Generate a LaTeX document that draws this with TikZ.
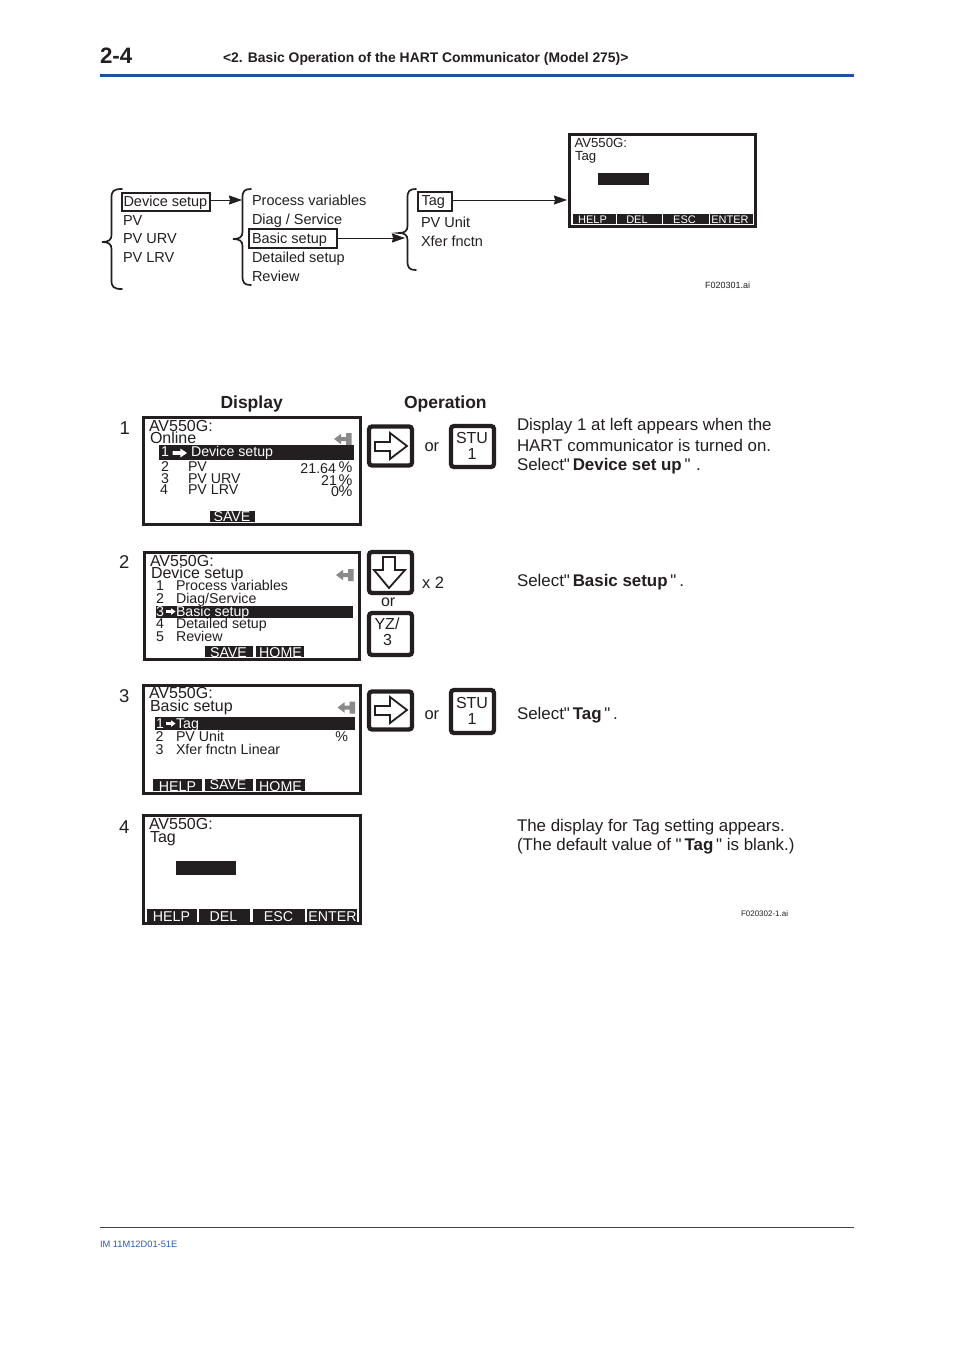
\documentclass[tikz,border=0pt]{standalone}
\usepackage{fontspec}
\usetikzlibrary{arrows.meta}
\newfontfamily\ar{Liberation Sans}
\definecolor{ink}{HTML}{231F20}
\definecolor{hblue}{HTML}{1F50A8}
\definecolor{fblue}{HTML}{2A5CAA}
\definecolor{icongray}{HTML}{8A8A8A}
\tikzset{
  lbl/.style={anchor=base west,inner sep=0pt,outer sep=0pt,text=ink,font=\ar\fontsize{#1}{#1}\selectfont},
  lblr/.style={anchor=base east,inner sep=0pt,outer sep=0pt,text=ink,font=\ar\fontsize{#1}{#1}\selectfont},
  lblc/.style={anchor=base,inner sep=0pt,outer sep=0pt,text=ink,font=\ar\fontsize{#1}{#1}\selectfont},
  inv/.style={text=white},
  selbox/.style={draw=ink,line width=1.2pt,inner sep=0pt,outer sep=0pt,minimum width=#1},
  lcd/.style={draw=ink,line width=3pt,inner sep=0pt,outer sep=0pt,fill=white},
  blk/.style={fill=ink,draw=none,inner sep=0pt,outer sep=0pt},
  keybtn/.style={draw=ink,line width=4.3pt,rounded corners=3pt,inner sep=0pt,outer sep=0pt,fill=white,minimum width=43pt},
  arr/.style={draw=ink,line width=.8pt,-{Stealth[length=13pt,width=9pt,inset=1pt]}},
  bracepath/.style={draw=ink,line width=1.7pt,line cap=round,fill=none},
  keyarrow/.style={draw=ink,line width=1.8pt,line join=miter,fill=white},
}
% end x, stem x, tip x, top y, tip y, bottom y
\newcommand{\curly}[6]{\draw[bracepath] (#1,#4) .. controls (#2+2,#4) and (#2,#4+2) .. (#2,#4+9) -- (#2,#5-7) .. controls (#2,#5-2) and (#2-3,#5) .. (#3,#5) .. controls (#2-3,#5) and (#2,#5+2) .. (#2,#5+7) -- (#2,#6-9) .. controls (#2,#6-2) and (#2+2,#6) .. (#1,#6);}
% left of icon x, top y
\newcommand{\backicon}[2]{\begin{scope}[shift={(#1,#2)}]\fill[icongray] (0,6) -- (7,.8) -- (7,4) -- (12,4) -- (12,0) -- (17.5,0) -- (17.5,12) -- (12,12) -- (12,8) -- (7,8) -- (7,11.2) -- cycle;\end{scope}}
% left x, centre y, length, stem half width, head half width
\newcommand{\wharrow}[5]{\begin{scope}[shift={(#1,#2)}]\fill[white] (0,-#4) -- (#3*0.55,-#4) -- (#3*0.55,-#5) -- (#3,0) -- (#3*0.55,#5) -- (#3*0.55,#4) -- (0,#4) -- cycle;\end{scope}}
\begin{document}
\begin{tikzpicture}[x=1pt,y=-1pt]
\useasboundingbox (0,0) rectangle (954,1350);
\fill[white] (0,0) rectangle (954,1350);
% header and footer
\node[lbl=22,font=\ar\bfseries\fontsize{22.3}{22.3}\selectfont] (hnum) at (100,63) {2-4};
\node[lbl=13,font=\ar\bfseries\fontsize{13.88}{13.88}\selectfont] (htitle) at (223,62) {<2. Basic Operation of the HART Communicator (Model 275)>};
\fill[hblue] (100,74) rectangle (854,77);
\draw[ink!85,line width=.6pt] (100,1227.5) -- (854,1227.5);
\node[lbl=9.3,text=fblue] (foot) at (100,1247) {IM 11M12D01-51E};

% ===== top menu tree
\curly{122}{111.5}{102}{189}{242}{289}
\curly{251}{242.5}{233}{189}{239}{285}
\curly{416}{407.5}{399}{189}{233}{270}
\node[lbl=14.5] (t1a) at (123.5,206) {Device setup};
\node[lbl=14.5] (t1b) at (123,225) {PV};
\node[lbl=14.5] (t1c) at (123,243) {PV URV};
\node[lbl=14.5] (t1d) at (123,262) {PV LRV};
\node[lbl=14.5] (t2a) at (252,205) {Process variables};
\node[lbl=14.5] (t2b) at (252,224) {Diag / Service};
\node[lbl=14.5] (t2c) at (252,243) {Basic setup};
\node[lbl=14.5] (t2d) at (252,262) {Detailed setup};
\node[lbl=14.5] (t2e) at (252,281) {Review};
\node[lbl=14.5] (t3a) at (421.5,205) {Tag};
\node[lbl=14.5] (t3b) at (421,227) {PV Unit};
\node[lbl=14.5] (t3c) at (421,246) {Xfer fnctn};
\node[selbox=88pt,minimum height=18pt] (devbox) at (166,202) {};
\node[selbox=88pt,minimum height=19pt] (basbox) at (293,238.5) {};
\node[selbox=34pt,minimum height=19pt] (tagbox) at (435,201.5) {};
\node[lcd,minimum width=186pt,minimum height=92pt] (scr0) at (662.5,180) {};
\coordinate (ae1) at (242,200);
\coordinate (ae2) at (405,238);
\coordinate (ae3) at (567,200);
\draw[arr] (devbox.east |- ae1) -- (ae1);
\draw[arr] (basbox.east |- ae2) -- (ae2);
\draw[arr] (tagbox.east |- ae3) -- (ae3);
\node[lbl=13.2] (s0a) at (574.5,147.5) {AV550G:};
\node[lbl=13.2] (s0b) at (575,160) {Tag};
\node[blk,minimum width=51pt,minimum height=12pt] (s0blk) at (623.5,179) {};
\node[blk,minimum width=181pt,minimum height=10.5pt] (s0bar) at (662.5,219) {};
\draw[white,line width=.8pt] (572,214) -- (572,225) (616.5,214) -- (616.5,225) (662.5,214) -- (662.5,225) (709,214) -- (709,225) (753,214) -- (753,225);
\node[lblc=11,inv] (s0k1) at (592.5,223) {HELP};
\node[lblc=11,inv] (s0k2) at (637,223) {DEL};
\node[lblc=11,inv] (s0k3) at (684.5,223) {ESC};
\node[lblc=11,inv] (s0k4) at (730,223) {ENTER};
\node[lbl=9] (f1) at (705,288) {F020301.ai};

% ===== headings
\node[lbl=17.7,font=\ar\bfseries\fontsize{17.5}{17.5}\selectfont] (hdisp) at (220.5,408) {Display};
\node[lbl=17.7,font=\ar\bfseries\fontsize{17.5}{17.5}\selectfont] (hop) at (404,408) {Operation};
\node[lbl=18.5] (n1) at (119.5,434) {1};
\node[lbl=18.5] (n2) at (119,568) {2};
\node[lbl=18.5] (n3) at (119,702) {3};
\node[lbl=18.5] (n4) at (119,833) {4};

% ===== screen 1
\node[lcd,minimum width=217pt,minimum height=107pt] (scr1) at (252,471) {};
\node[lbl=16] (a1) at (149,431.5) {AV550G:};
\node[lbl=16] (a2) at (150,443) {Online};
\backicon{334}{433}
\node[blk,minimum width=195pt,minimum height=15pt] (hl1) at (256.5,452.5) {};
\node[lbl=14.2,inv] (a3) at (161,456.5) {1};
\wharrow{172.5}{453}{14.5}{1.9}{4.4}
\node[lbl=14.2,inv] (a4) at (191,456.5) {Device setup};
\node[lbl=14.2] (a5) at (161,471) {2};
\node[lbl=14.2] (a6) at (188,471) {PV};
\node[lblr=14.2] (a7) at (336,473) {21.64};
\node[lblr=15.5] (a8) at (352.5,472) {\%};
\node[lbl=14.2] (a9) at (161,483) {3};
\node[lbl=14.2] (a10) at (188,483) {PV URV};
\node[lblr=14.2] (a11) at (337,485) {21};
\node[lblr=15.5] (a12) at (352.5,485) {\%};
\node[lbl=14.2] (a13) at (160,494.5) {4};
\node[lbl=14.2] (a14) at (188,494.5) {PV LRV};
\node[lblr=14.2] (a15) at (339,496) {0};
\node[lblr=15.5] (a16) at (352.5,496.5) {\%};
\node[blk,minimum width=45pt,minimum height=11pt] (a17) at (232.5,516) {};
\node[lblc=14.2,inv] (a18) at (232,521.5) {SAVE};
% operations row 1
\node[keybtn,minimum height=39pt] (k1) at (390.5,446) {};
\draw[keyarrow] (375,442) -- (390,442) -- (390,433) -- (407,446) -- (390,459) -- (390,451) -- (375,451) -- cycle;
\node[lbl=16.5] (or1) at (424.5,451) {or};
\node[keybtn,minimum height=41pt] (k2) at (472.5,446.5) {};
\node[lblc=16] (k2a) at (472,443) {STU};
\node[lblc=16] (k2b) at (472,459) {1};
% text row 1
\node[lbl=16.9] (d1) at (517,430.5) {Display 1 at left appears when the};
\node[lbl=16.9] (d2) at (517,451.5) {HART communicator is turned on.};
\node[lbl=16.9] (d3) at (517,470) {Select"\,\textbf{Device set up}\,"\,\,.};

% ===== screen 2
\node[lcd,minimum width=215.5pt,minimum height=107.5pt] (scr2) at (252,606) {};
\node[lbl=16] (b1) at (150,566) {AV550G:};
\node[lbl=16] (b2) at (151,578.5) {Device setup};
\backicon{336}{569}
\node[blk,minimum width=197pt,minimum height=12pt] (hl2) at (254.5,612) {};
\node[lbl=14.2] (b3) at (156,590) {1};
\node[lbl=14.2] (b4) at (176,590) {Process variables};
\node[lbl=14.2] (b5) at (156,603) {2};
\node[lbl=14.2] (b6) at (176,603) {Diag/Service};
\node[lbl=14.2,inv] (b7) at (156,616) {3};
\wharrow{166}{611.5}{9.5}{1.3}{3.2}
\node[lbl=14.2,inv] (b8) at (176,616) {Basic setup};
\node[lbl=14.2] (b9) at (156,628) {4};
\node[lbl=14.2] (b10) at (176,628) {Detailed setup};
\node[lbl=14.2] (b11) at (156,641) {5};
\node[lbl=14.2] (b12) at (176,641) {Review};
\node[blk,minimum width=48pt,minimum height=11.5pt] (b13) at (229,651.7) {};
\node[blk,minimum width=48pt,minimum height=11.5pt] (b14) at (280,651.7) {};
\node[lblc=14.2,inv] (b15) at (228.5,657.5) {SAVE};
\node[lblc=14.2,inv] (b16) at (280.5,657.5) {HOME};
\node[keybtn,minimum height=41pt] (k3) at (390.5,572.5) {};
\draw[keyarrow] (383,557) -- (395,557) -- (395,570) -- (405,570) -- (389,588) -- (374,570) -- (383,570) -- cycle;
\node[lbl=16.5] (x2) at (422,588) {x 2};
\node[lbl=16] (or2) at (381,606) {or};
\node[keybtn,minimum height=42pt] (k4) at (390.5,634) {};
\node[lblc=16] (k4a) at (387,629) {YZ/};
\node[lblc=16] (k4b) at (387.5,645) {3};
\node[lbl=16.9] (d4) at (517,586) {Select"\,\textbf{Basic setup}\,"\,.};

% ===== screen 3
\node[lcd,minimum width=217pt,minimum height=108pt] (scr3) at (252,739) {};
\node[lbl=16] (c1) at (149,698.5) {AV550G:};
\node[lbl=16] (c2) at (150,711) {Basic setup};
\backicon{337.5}{701.5}
\node[blk,minimum width=200pt,minimum height=13pt] (hl3) at (255,723.5) {};
\node[lbl=14.2,inv] (c3) at (156,728) {1};
\wharrow{166}{723.5}{9.5}{1.3}{3.2}
\node[lbl=14.2,inv] (c4) at (176,728) {Tag};
\node[lbl=14.2] (c5) at (155.5,741) {2};
\node[lbl=14.2] (c6) at (176,741) {PV Unit};
\node[lblr=14.2] (c7) at (348,741) {\%};
\node[lbl=14.2] (c8) at (155.5,754) {3};
\node[lbl=14.2] (c9) at (176,754) {Xfer fnctn Linear};
\node[blk,minimum width=49pt,minimum height=12pt] (c10) at (177.5,785) {};
\node[blk,minimum width=48pt,minimum height=12pt] (c11) at (229,785) {};
\node[blk,minimum width=49pt,minimum height=12pt] (c12) at (280.5,785) {};
\node[lblc=14.2,inv] (c13) at (177.5,791.5) {HELP};
\node[lblc=14.2,inv] (c14) at (228,789.5) {SAVE};
\node[lblc=14.2,inv] (c15) at (280.5,791.5) {HOME};
\node[keybtn,minimum height=38pt] (k5) at (390.5,710.5) {};
\draw[keyarrow] (375,706) -- (390,706) -- (390,697) -- (407,710) -- (390,723) -- (390,715) -- (375,715) -- cycle;
\node[lbl=16.5] (or3) at (424.5,719) {or};
\node[keybtn,minimum height=43pt] (k6) at (472.5,711.5) {};
\node[lblc=16] (k6a) at (472,708) {STU};
\node[lblc=16] (k6b) at (472,724) {1};
\node[lbl=16.9] (d5) at (517,719) {Select"\,\textbf{Tag}\,"\,.};

% ===== screen 4
\node[lcd,minimum width=217pt,minimum height=108pt] (scr4) at (252,869) {};
\node[lbl=16] (e1) at (149,829.5) {AV550G:};
\node[lbl=16] (e2) at (150,842) {Tag};
\node[blk,minimum width=60pt,minimum height=14pt] (e3) at (206,868) {};
\node[blk,minimum width=50pt,minimum height=13pt] (e4) at (172,915.5) {};
\node[blk,minimum width=51pt,minimum height=13pt] (e5) at (224.5,915.5) {};
\node[blk,minimum width=52pt,minimum height=13pt] (e6) at (279,915.5) {};
\node[blk,minimum width=50pt,minimum height=13pt] (e7) at (332,915.5) {};
\node[lblc=14.2,inv] (e8) at (171.5,921.5) {HELP};
\node[lblc=14.2,inv] (e9) at (223.5,921.5) {DEL};
\node[lblc=14.2,inv] (e10) at (278.5,921.5) {ESC};
\node[lblc=14.2,inv] (e11) at (332.5,921.5) {ENTER};
\node[lbl=16.9] (d6) at (517,831) {The display for Tag setting appears.};
\node[lbl=16.9] (d7) at (517,850) {(The default value of "\,\textbf{Tag}\," is blank.)};
\node[lbl=8] (f2) at (741,916) {F020302-1.ai};
\end{tikzpicture}
\end{document}
